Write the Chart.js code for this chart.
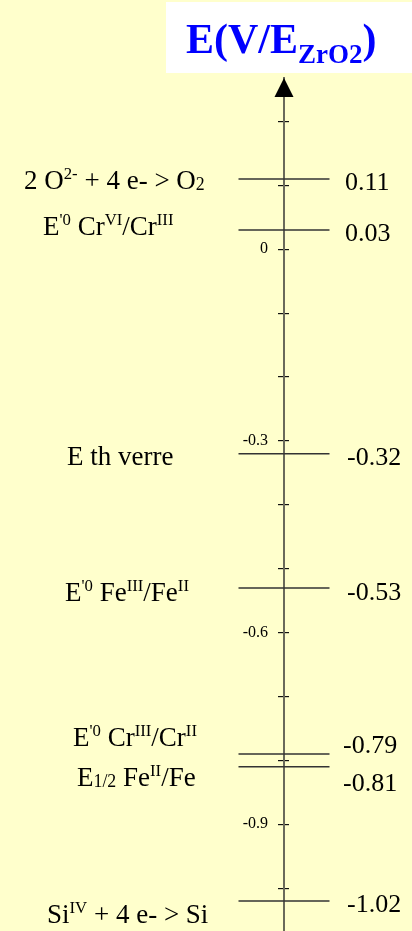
<!DOCTYPE html>
<html>
<head>
<meta charset="utf-8">
<script src="https://cdn.jsdelivr.net/npm/chart.js@4"></script>
<style>
  html, body { margin: 0; padding: 0; background: #ffffcc; overflow: hidden; }
  canvas { display: block; }
</style>
</head>
<body>
<canvas id="levels" width="412" height="931"></canvas>
<script>
'use strict';

// redox levels (^{..} = superscript, _{..} = subscript)
var couples = ['2 O^{2-} + 4 e- > O_{2}', "E^{'0} Cr^{VI}/Cr^{III}", 'E th verre', "E^{'0} Fe^{III}/Fe^{II}",
  "E^{'0} Cr^{III}/Cr^{II}", 'E_{1/2} Fe^{II}/Fe', 'Si^{IV} + 4 e- > Si'];
var potentials = [0.11, 0.03, -0.32, -0.53, -0.79, -0.81, -1.02];
var axisTicks = [0, -0.3, -0.6, -0.9];
var axisTitle = ['E(V/E', 'ZrO2', ')'];

// where the texts sit (layout only)
var labelLeft = [24, 43, 67, 65, 73, 77, 47];
var labelDy = [10, 5, 11, 13, -8, 19, 22];
var valueLeft = [345, 345, 347, 347, 343, 343, 347];
var valueDy = [11, 11, 11, 12, -1, 24, 11];

var serif = '"Liberation Serif", "Times New Roman", serif';
var yMin = -1.067, yMax = 0.268;

// draws a label with small raised / lowered parts
function drawRich(c, str, x, y, size) {
  var parts = str.match(/[\^_]\{[^}]*\}|[^\^_]+/g);
  parts.forEach(function (p) {
    var s = size, dy = 0, t = p;
    if (p[0] === '^') { t = p.slice(2, -1); s = size * 0.62; dy = -size * 0.36; }
    else if (p[0] === '_') { t = p.slice(2, -1); s = size * 0.66; dy = size * 0.04; }
    c.font = s + 'px ' + serif;
    c.fillText(t, x, y + dy);
    x += c.measureText(t).width;
  });
}

// axes sit on the plot, they must not eat any room
function noRoom(s) {
  s.width = 0;
  s.paddingTop = 0;
  s.paddingBottom = 0;
}

var overlay = {
  id: 'overlay',
  afterDraw: function (chart) {
    var c = chart.ctx, ys = chart.scales.y, ax = chart.scales.x.getPixelForValue(0);
    c.save();
    // arrow head on top of the axis
    c.fillStyle = '#000';
    c.beginPath();
    c.moveTo(ax, ys.top);
    c.lineTo(ax - 9.5, ys.top + 19);
    c.lineTo(ax + 9.5, ys.top + 19);
    c.closePath();
    c.fill();

    c.textAlign = 'left';
    c.textBaseline = 'alphabetic';
    potentials.forEach(function (v, i) {
      var py = ys.getPixelForValue(v);
      drawRich(c, couples[i], labelLeft[i], py + labelDy[i], 27);
      c.font = '26px ' + serif;
      c.fillText(v.toFixed(2), valueLeft[i], py + valueDy[i]);
    });

    // axis title in its white box
    c.fillStyle = '#fff';
    c.fillRect(166, 2, 246, 71);
    c.fillStyle = '#0000ff';
    var tx = 186;
    c.font = 'bold 42px ' + serif;
    c.fillText(axisTitle[0], tx, 53);
    tx += c.measureText(axisTitle[0]).width;
    c.font = 'bold 27px ' + serif;
    c.fillText(axisTitle[1], tx, 63);
    tx += c.measureText(axisTitle[1]).width;
    c.font = 'bold 42px ' + serif;
    c.fillText(axisTitle[2], tx, 53);
    c.restore();
  }
};

var ctx = document.getElementById('levels').getContext('2d');
new Chart(ctx, {
  type: 'scatter',
  data: {
    labels: couples,
    datasets: [{
      data: potentials.map(function (v) { return {x: 0, y: v}; }),
      pointStyle: 'line',
      pointRadius: 45.5,
      pointBorderWidth: 1.5,
      pointBorderColor: '#333',
      clip: false
    }]
  },
  options: {
    responsive: false,
    devicePixelRatio: 1,
    animation: false,
    events: [],
    layout: {autoPadding: false, padding: {left: 156, right: 0, top: 78, bottom: 0}},
    plugins: {legend: {display: false}, tooltip: {enabled: false}},
    scales: {
      x: {type: 'linear', min: -1, max: 1, display: false},
      // the axis line and left half of the tick marks
      y: {
        type: 'linear',
        min: yMin,
        max: yMax,
        position: {x: 0},
        afterFit: noRoom,
        border: {color: '#6a6a5a', width: 2},
        grid: {drawOnChartArea: false, tickLength: 5, color: '#111', lineWidth: 1.2},
        ticks: {stepSize: 0.1, includeBounds: false, autoSkip: false, display: false}
      },
      // right half of the tick marks
      y2: {
        type: 'linear',
        axis: 'y',
        min: yMin,
        max: yMax,
        position: {x: 0},
        afterFit: noRoom,
        border: {display: false},
        grid: {drawOnChartArea: false, tickLength: -5, color: '#111', lineWidth: 1.2},
        ticks: {stepSize: 0.1, includeBounds: false, autoSkip: false, display: false}
      },
      // tick labels, set a little left of the axis
      yLabels: {
        type: 'linear',
        axis: 'y',
        min: yMin,
        max: yMax,
        position: {x: -0.125},
        afterFit: noRoom,
        border: {display: false},
        grid: {display: false},
        ticks: {
          stepSize: 0.1,
          includeBounds: false,
          autoSkip: false,
          padding: 0,
          color: '#000',
          font: {family: serif, size: 16},
          callback: function (v) {
            var n = Math.round(v * 10);
            return axisTicks.some(function (t) { return Math.round(t * 10) === n; }) ? String(n / 10) : '';
          }
        }
      }
    }
  },
  plugins: [overlay]
});
</script>
</body>
</html>
